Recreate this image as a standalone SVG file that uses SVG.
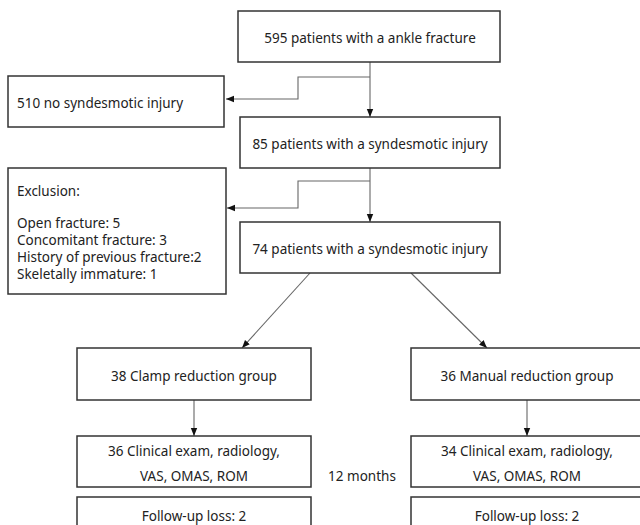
<svg xmlns="http://www.w3.org/2000/svg" width="640" height="525" viewBox="0 0 640 525">
<defs>
<marker id="ah" markerUnits="userSpaceOnUse" markerWidth="8" markerHeight="8" viewBox="0 0 8 8" refX="8" refY="4" orient="auto">
<path d="M0,0.8 L8,4 L0,7.2 Z" fill="#111"/>
</marker>
<style>
.box{fill:#fff;stroke:#333;stroke-width:1.5}
.t{font-family:"Noto Sans","Open Sans",sans-serif;font-size:13.5px;fill:#222}
.c{text-anchor:middle}
.ln{fill:none;stroke:#666;stroke-width:1.1}
</style>
</defs>
<rect width="640" height="525" fill="#fff"/>
<g id="connectors">
<path class="ln" d="M370,62 V117" marker-end="url(#ah)"/>
<path class="ln" d="M370,77 H298 V99 H226" marker-end="url(#ah)"/>
<path class="ln" d="M370,168 V222" marker-end="url(#ah)"/>
<path class="ln" d="M370,181 H298 V208 H227" marker-end="url(#ah)"/>
<path class="ln" d="M310,273 L242,348" marker-end="url(#ah)"/>
<path class="ln" d="M411,273 L487,348" marker-end="url(#ah)"/>
<path class="ln" d="M194,400 V436" marker-end="url(#ah)"/>
<path class="ln" d="M527,400 V436" marker-end="url(#ah)"/>
</g>
<g id="n595">
<rect class="box" x="238" y="11" width="262" height="51"/>
<text class="t c" x="370" y="43">595 patients with a ankle fracture</text>
</g>
<g id="n510">
<rect class="box" x="8" y="76" width="216" height="51"/>
<text class="t" x="17" y="108">510 no syndesmotic injury</text>
</g>
<g id="n85">
<rect class="box" x="240" y="117" width="260" height="51"/>
<text class="t c" x="370" y="149">85 patients with a syndesmotic injury</text>
</g>
<g id="exclusion">
<rect class="box" x="8" y="168" width="218" height="126"/>
<text class="t" x="17" y="196">Exclusion:</text>
<text class="t" x="17" y="228">Open fracture: 5</text>
<text class="t" x="17" y="245">Concomitant fracture: 3</text>
<text class="t" x="17" y="262">History of previous fracture:2</text>
<text class="t" x="17" y="279">Skeletally immature: 1</text>
</g>
<g id="n74">
<rect class="box" x="240" y="222" width="260" height="51"/>
<text class="t c" x="370" y="254">74 patients with a syndesmotic injury</text>
</g>
<g id="clamp">
<rect class="box" x="77" y="348" width="234" height="52"/>
<text class="t c" x="194" y="381">38 Clamp reduction group</text>
</g>
<g id="manual">
<rect class="box" x="411" y="348" width="234" height="52"/>
<text class="t c" x="527" y="381">36 Manual reduction group</text>
</g>
<g id="clinicalLeft">
<rect class="box" x="77" y="436" width="234" height="51"/>
<text class="t c" x="194" y="456">36 Clinical exam, radiology,</text>
<text class="t c" x="194" y="481">VAS, OMAS, ROM</text>
</g>
<g id="clinicalRight">
<rect class="box" x="411" y="436" width="234" height="51"/>
<text class="t c" x="527" y="456">34 Clinical exam, radiology,</text>
<text class="t c" x="527" y="481">VAS, OMAS, ROM</text>
</g>
<g id="months">
<text class="t c" x="362" y="481">12 months</text>
</g>
<g id="lossLeft">
<rect class="box" x="77" y="497" width="234" height="40"/>
<text class="t c" x="194" y="521">Follow-up loss: 2</text>
</g>
<g id="lossRight">
<rect class="box" x="411" y="497" width="234" height="40"/>
<text class="t c" x="527" y="521">Follow-up loss: 2</text>
</g>
</svg>
